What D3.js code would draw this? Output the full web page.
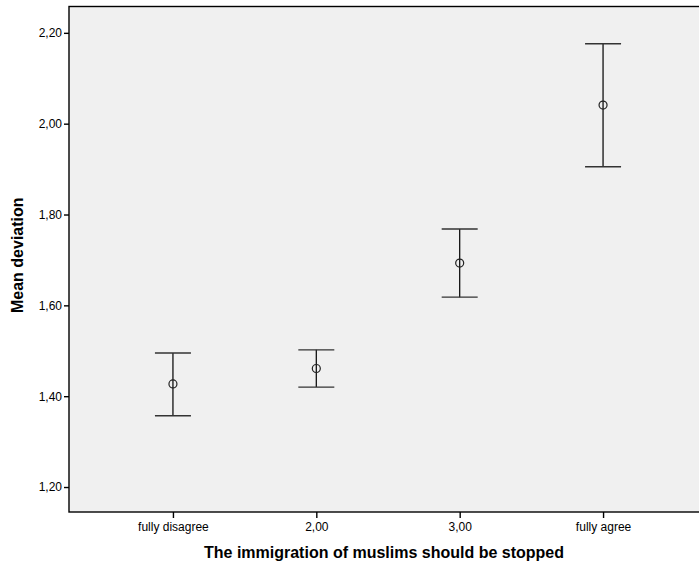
<!DOCTYPE html>
<html>
<head>
<meta charset="utf-8">
<script src="https://cdn.jsdelivr.net/npm/d3@7"></script>
<style>
  html, body { margin: 0; padding: 0; background: #ffffff; overflow: hidden; }
  svg { display: block; }
  text { font-family: "Liberation Sans", Arial, sans-serif; fill: #000; }
</style>
</head>
<body>
<script>
// Mean deviation by agreement category, with error bars
const categories = ["fully disagree", "2,00", "3,00", "fully agree"];
const means = [1.427, 1.461, 1.693, 2.041];
const lower = [1.357, 1.420, 1.618, 1.905];
const upper = [1.495, 1.502, 1.768, 2.176];
const yTicks = [1.2, 1.4, 1.6, 1.8, 2.0, 2.2];

const W = 699, H = 567;
const plot = { left: 69, top: 6.5, right: 707, bottom: 512 };

const svg = d3.select("body").append("svg")
  .attr("width", W).attr("height", H);

const x = d3.scalePoint()
  .domain(categories)
  .range([plot.left, plot.right])
  .padding(0.725);

const y = d3.scaleLinear()
  .domain([1.145, 2.258])
  .range([plot.bottom, plot.top]);

// plot background (continues past the right edge of the page)
svg.append("rect")
  .attr("x", plot.left).attr("y", plot.top)
  .attr("width", plot.right - plot.left + 40)
  .attr("height", plot.bottom - plot.top)
  .attr("fill", "#f0f0f0")
  .attr("stroke", "#000").attr("stroke-width", 1.4);

const fmt = d => d3.format(".2f")(d).replace(".", ",");

// y axis
const yAxis = svg.append("g")
  .attr("transform", `translate(${plot.left},0)`)
  .call(d3.axisLeft(y).tickValues(yTicks).tickFormat(fmt).tickSize(5).tickPadding(2));
yAxis.select(".domain").remove();
yAxis.selectAll(".tick line").attr("stroke", "#000").attr("stroke-width", 1.4);
yAxis.selectAll(".tick text")
  .style("font-family", "'Liberation Sans', Arial, sans-serif")
  .style("font-size", "12px").attr("fill", "#000");

// x axis
const xAxis = svg.append("g")
  .attr("transform", `translate(0,${plot.bottom})`)
  .call(d3.axisBottom(x).tickSize(6).tickPadding(4));
xAxis.select(".domain").remove();
xAxis.selectAll(".tick line").attr("stroke", "#000").attr("stroke-width", 1.4);
xAxis.selectAll(".tick text")
  .style("font-family", "'Liberation Sans', Arial, sans-serif")
  .style("font-size", "12px").attr("fill", "#000");

// error bars
const capHalf = 18;
const bars = svg.append("g").selectAll("g")
  .data(categories.map((c, i) => ({ c, m: means[i], lo: lower[i], hi: upper[i] })))
  .join("g");

bars.append("line")
  .attr("x1", d => x(d.c)).attr("x2", d => x(d.c))
  .attr("y1", d => y(d.hi)).attr("y2", d => y(d.lo))
  .attr("stroke", "#111").attr("stroke-width", 1.3);

bars.append("line")
  .attr("x1", d => x(d.c) - capHalf).attr("x2", d => x(d.c) + capHalf)
  .attr("y1", d => y(d.hi)).attr("y2", d => y(d.hi))
  .attr("stroke", "#333").attr("stroke-width", 1.4);

bars.append("line")
  .attr("x1", d => x(d.c) - capHalf).attr("x2", d => x(d.c) + capHalf)
  .attr("y1", d => y(d.lo)).attr("y2", d => y(d.lo))
  .attr("stroke", "#333").attr("stroke-width", 1.4);

bars.append("circle")
  .attr("cx", d => x(d.c)).attr("cy", d => y(d.m))
  .attr("r", 4)
  .attr("fill", "none")
  .attr("stroke", "#222").attr("stroke-width", 1.2);

// axis titles
svg.append("text")
  .attr("x", 384).attr("y", 558)
  .attr("text-anchor", "middle")
  .style("font-size", "16px").style("font-weight", "bold")
  .text("The immigration of muslims should be stopped");

svg.append("text")
  .attr("transform", `translate(23,${(plot.top + plot.bottom) / 2 - 4}) rotate(-90)`)
  .attr("text-anchor", "middle")
  .style("font-size", "16px").style("font-weight", "bold")
  .text("Mean deviation");
</script>
</body>
</html>
